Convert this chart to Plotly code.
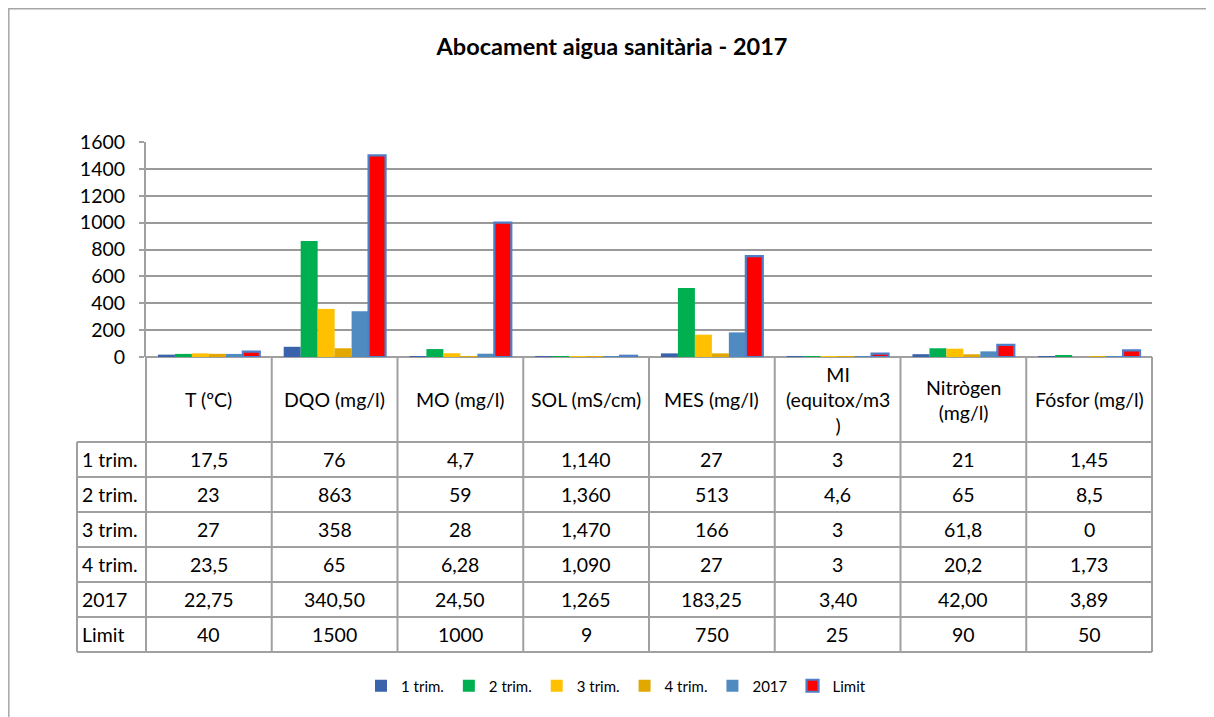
import plotly.graph_objects as go

# ---------------- data ----------------
categories = ["T (ºC)", "DQO (mg/l)", "MO (mg/l)", "SOL (mS/cm)", "MES (mg/l)",
              "MI (equitox/m3)", "Nitrògen (mg/l)", "Fósfor (mg/l)"]
header_labels = ["T (ºC)", "DQO (mg/l)", "MO (mg/l)", "SOL (mS/cm)", "MES (mg/l)",
                 "MI<br>(equitox/m3<br>)", "Nitrògen<br>(mg/l)", "Fósfor (mg/l)"]
series_names = ["1 trim.", "2 trim.", "3 trim.", "4 trim.", "2017", "Limit"]

trim1 = [17.5, 76, 4.7, 1.14, 27, 3, 21, 1.45]
trim2 = [23, 863, 59, 1.36, 513, 4.6, 65, 8.5]
trim3 = [27, 358, 28, 1.47, 166, 3, 61.8, 0]
trim4 = [23.5, 65, 6.28, 1.09, 27, 3, 20.2, 1.73]
year2017 = [22.75, 340.5, 24.5, 1.265, 183.25, 3.4, 42.0, 3.89]
limit = [40, 1500, 1000, 9, 750, 25, 90, 50]

y_ticks = [0, 200, 400, 600, 800, 1000, 1200, 1400, 1600]

series_values = [trim1, trim2, trim3, trim4, year2017, limit]
series_colors = ["#3B63AB", "#00B050", "#FFC000", "#E2A800", "#4F8BC0", "#FF0000"]
series_lines = ["#3B63AB", "#00B050", "#FFC000", "#E2A800", "#4F8BC0", "#4F7FC8"]
series_linew = [0, 0, 0, 0, 0, 2.2]

# ---------------- geometry (reference window pixels) ----------------
OFF = 8                    # page body margin
W, H = 1214 - OFF, 717 - OFF
L, R = 146, 1152           # plot area x pixels (window)
T, B = 142, 357            # plot area y pixels (window)
FONT = "Lato, 'Open Sans', sans-serif"
GRAY = "#A0A0A0"
TXT = 19.5


def px2x(px):
    return (px - L) / (R - L)


def py2y(py):
    return (B - py) / (B - T)


def fmt(v, dec=None):
    s = ("%g" % v) if dec is None else f"{v:.{dec}f}"
    return s.replace(".", ",")


def cell_text(row, col, v):
    sol = categories[col].startswith("SOL")
    if series_names[row] == "Limit":
        return fmt(v)
    if series_names[row] == "2017":
        return fmt(v, 3 if sol else 2)
    return fmt(v, 3) if sol else fmt(v)


fig = go.Figure()
for name, vals, col, lc, lw in zip(series_names, series_values, series_colors,
                                    series_lines, series_linew):
    fig.add_trace(go.Bar(x=categories, y=vals, name=name,
                         marker=dict(color=col, line=dict(color=lc, width=lw))))

shapes = []
# outer chart border (left and top)
shapes.append(dict(type="line", xref="paper", yref="paper",
                   x0=px2x(8.8), x1=px2x(8.8), y0=py2y(8.8), y1=py2y(H + 40),
                   line=dict(color="#A6A6A6", width=1.5)))
shapes.append(dict(type="line", xref="paper", yref="paper",
                   x0=px2x(8), x1=px2x(W + 40), y0=py2y(8.8), y1=py2y(8.8),
                   line=dict(color="#A6A6A6", width=1.5)))

# table geometry
n = len(categories)
cw = (R - L) / n
header_bottom = 442
row_h = 35
row_tops = [header_bottom + i * row_h for i in range(len(series_names) + 1)]
table_left = 77
for yy in row_tops:
    shapes.append(dict(type="line", xref="paper", yref="paper",
                       x0=px2x(table_left), x1=px2x(R), y0=py2y(yy), y1=py2y(yy),
                       line=dict(color=GRAY, width=2)))
shapes.append(dict(type="line", xref="paper", yref="paper",
                   x0=px2x(table_left), x1=px2x(table_left),
                   y0=py2y(header_bottom), y1=py2y(row_tops[-1]),
                   line=dict(color=GRAY, width=2)))
for i in range(n + 1):
    xx = L + i * cw
    shapes.append(dict(type="line", xref="paper", yref="paper",
                       x0=px2x(xx), x1=px2x(xx), y0=py2y(B), y1=py2y(row_tops[-1]),
                       line=dict(color=GRAY, width=2)))

annotations = []
for i, lab in enumerate(header_labels):
    annotations.append(dict(text=lab, xref="paper", yref="paper",
                            x=px2x(L + cw * (i + 0.5)), y=py2y((B + header_bottom) / 2),
                            showarrow=False, xanchor="center", yanchor="middle",
                            font=dict(family=FONT, size=TXT, color="#000000")))
for r, (name, vals) in enumerate(zip(series_names, series_values)):
    yc = py2y(row_tops[r] + row_h / 2)
    annotations.append(dict(text=name, xref="paper", yref="paper",
                            x=px2x(80), y=yc, showarrow=False,
                            xanchor="left", yanchor="middle",
                            font=dict(family=FONT, size=TXT, color="#000000")))
    for c, v in enumerate(vals):
        annotations.append(dict(text=cell_text(r, c, v), xref="paper", yref="paper",
                                x=px2x(L + cw * (c + 0.5)), y=yc, showarrow=False,
                                xanchor="center", yanchor="middle",
                                font=dict(family=FONT, size=TXT, color="#000000")))

fig.update_layout(
    width=W, height=H,
    margin=dict(l=L - OFF, r=W - (R - OFF), t=T - OFF, b=H - (B - OFF), pad=0),
    paper_bgcolor="white", plot_bgcolor="white",
    barmode="group", bargap=0.19, bargroupgap=0,
    font=dict(family=FONT, color="#000000"),
    title=dict(text="<b>Abocament aigua sanitària - 2017</b>",
               x=(612 - OFF) / W, xanchor="center",
               y=1 - (47 - OFF) / H, yanchor="middle",
               font=dict(family=FONT, size=23.5, color="#000000")),
    xaxis=dict(showticklabels=False, showgrid=False, zeroline=False,
               showline=False, ticks=""),
    yaxis=dict(range=[0, 1600], tickvals=y_ticks, showgrid=True,
               gridcolor="#9A9A9A", gridwidth=1.6,
               showline=True, linecolor=GRAY, linewidth=2,
               zeroline=True, zerolinecolor=GRAY, zerolinewidth=2,
               ticks="outside", ticklen=5, tickcolor=GRAY, tickwidth=1.5,
               ticklabelstandoff=10,
               tickfont=dict(family=FONT, size=TXT, color="#000000")),
    legend=dict(orientation="h", x=px2x(616), xanchor="center",
                y=py2y(686), yanchor="middle",
                font=dict(family=FONT, size=15, color="#000000"),
                bgcolor="rgba(0,0,0,0)", traceorder="normal"),
    shapes=shapes, annotations=annotations,
    showlegend=True,
)

fig.write_html("out.html")
